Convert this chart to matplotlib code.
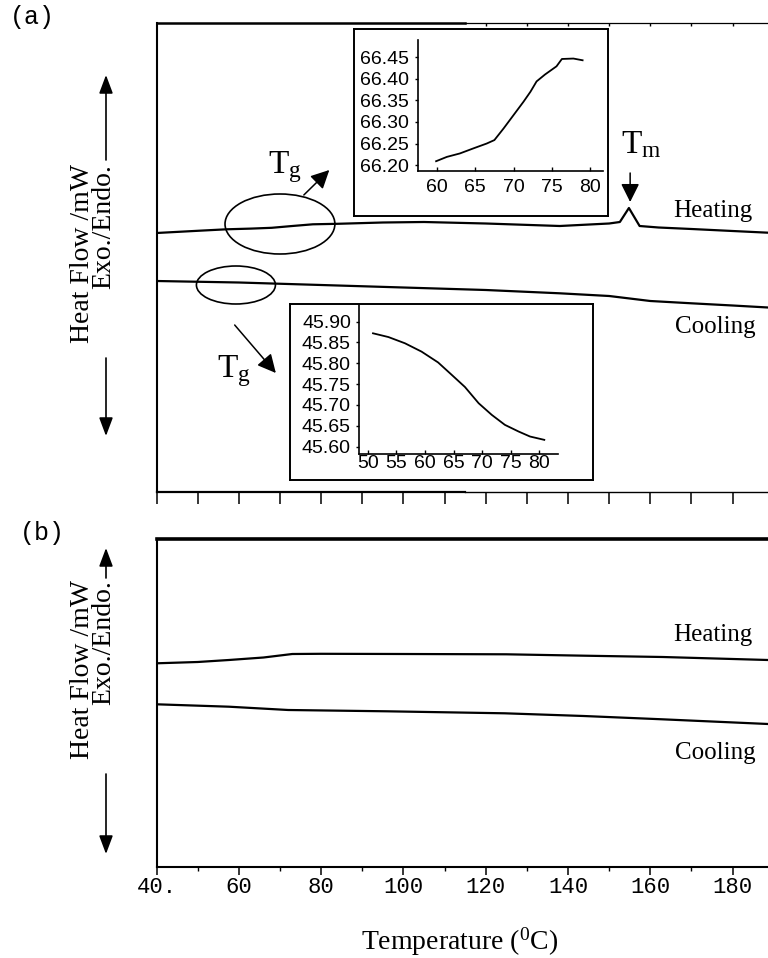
import numpy as np
import matplotlib
matplotlib.use("Agg")
import matplotlib.pyplot as plt
from matplotlib.patches import Ellipse, FancyArrowPatch

plt.rcParams['mathtext.fontset'] = 'custom'
plt.rcParams['mathtext.rm'] = 'Liberation Serif'
plt.rcParams['mathtext.it'] = 'Liberation Serif:italic'

SERIF = 'Liberation Serif'
MONO = 'Liberation Mono'
SANS = 'Liberation Sans'

# ---------------- data ----------------
# panel (a) : heat flow (arbitrary units) vs temperature (°C)
a_heat_T = [40, 50, 57, 63, 68, 73, 78, 84, 95, 105, 120, 138, 150, 152.6, 154.8, 157.4, 162, 170, 180, 188.6]
a_heat_v = [25.90, 26.12, 26.27, 26.34, 26.42, 26.60, 26.77, 26.82, 26.95, 27.00, 26.85, 26.60, 26.85,
            27.00, 28.40, 26.60, 26.45, 26.30, 26.10, 25.93]
a_cool_T = [40, 60, 80, 100, 120, 138, 150, 160, 170, 180, 188.6]
a_cool_v = [21.10, 20.95, 20.70, 20.45, 20.20, 19.87, 19.60, 19.10, 18.87, 18.65, 18.45]

# panel (b)
b_heat_T = [40, 50, 57.6, 66, 73, 80, 100, 125, 144, 163, 188.6]
b_heat_v = [20.37, 20.50, 20.70, 20.95, 21.30, 21.32, 21.30, 21.27, 21.13, 21.00, 20.70]
b_cool_T = [40, 57.6, 72, 96, 124.6, 143.8, 162.9, 188.6]
b_cool_v = [16.27, 16.03, 15.70, 15.57, 15.37, 15.10, 14.77, 14.30]

# inset: heating Tg region
in1_T = [59.9, 61.3, 63.0, 64.8, 66.5, 67.5, 68.7, 70.0, 71.3, 72.2, 73.0, 74.1, 75.6, 76.3, 77.8, 79.0]
in1_v = [66.209, 66.219, 66.227, 66.239, 66.250, 66.258, 66.285, 66.316, 66.347, 66.370, 66.394,
         66.410, 66.429, 66.446, 66.447, 66.443]
in1_xticks = [60, 65, 70, 75, 80]
in1_yticks = [66.20, 66.25, 66.30, 66.35, 66.40, 66.45]

# inset: cooling Tg region
in2_T = [50.9, 53.6, 56.5, 59.4, 62.3, 64.7, 67.0, 69.4, 71.7, 74.0, 76.4, 78.4, 80.9]
in2_v = [45.872, 45.863, 45.848, 45.828, 45.802, 45.772, 45.743, 45.704, 45.676, 45.652, 45.636,
         45.624, 45.616]
in2_xticks = [50, 55, 60, 65, 70, 75, 80]
in2_yticks = [45.60, 45.65, 45.70, 45.75, 45.80, 45.85, 45.90]

x_major = [40, 60, 80, 100, 120, 140, 160, 180]
x_major_labels = ['40.', '60', '80', '100', '120', '140', '160', '180']

# ---------------- layout ----------------
W, H = 768, 958
fig = plt.figure(figsize=(W / 100, H / 100), dpi=100)


def rect(l, t, r, b):
    return [l / W, 1 - b / H, (r - l) / W, (b - t) / H]


def fx(x):
    return x / W


def fy(y):
    return 1 - y / H


ax1 = fig.add_axes(rect(156.5, 23, 768, 492))
ax2 = fig.add_axes(rect(156.5, 539, 768, 867))

for ax in (ax1, ax2):
    ax.set_xlim(40, 188.6)
    ax.spines['right'].set_visible(False)
    ax.set_yticks([])
    ax.spines['left'].set_linewidth(1.5)

ax1.set_ylim(0, 46.9)
ax2.set_ylim(0, 32.8)

# panel (a) curves
ax1.plot(a_heat_T, a_heat_v, color='black', lw=1.6)
ax1.plot(a_cool_T, a_cool_v, color='black', lw=1.6)
# panel (b) curves
ax2.plot(b_heat_T, b_heat_v, color='black', lw=1.6)
ax2.plot(b_cool_T, b_cool_v, color='black', lw=1.6)

# panel (a) spines / ticks
ax1.spines['top'].set_visible(False)
ax1.spines['bottom'].set_visible(False)
split = (465 - 156.5) / (768 - 156.5)
ax1.plot([0, split], [1, 1], transform=ax1.transAxes, color='black', lw=1.8, clip_on=False)
ax1.plot([split, 1], [1, 1], transform=ax1.transAxes, color='black', lw=0.9, clip_on=False)
ax1.plot([0, split], [0, 0], transform=ax1.transAxes, color='black', lw=1.6, clip_on=False)
ax1.plot([split, 1], [0, 0], transform=ax1.transAxes, color='black', lw=1.0, clip_on=False)
ax1.set_xticks(np.arange(40, 190, 10))
ax1.tick_params(axis='x', direction='out', length=8.4, width=1.1, labelbottom=False)
sec = ax1.secondary_xaxis('top')
sec.set_xticks(np.arange(120, 190, 10))
sec.tick_params(axis='x', direction='in', length=2.5, width=1.0, labeltop=False)
sec.spines['top'].set_visible(False)

# panel (b) spines / ticks
ax2.spines['top'].set_linewidth(2.6)
ax2.spines['bottom'].set_linewidth(1.5)
ax2.set_xticks(x_major)
ax2.set_xticklabels(x_major_labels, family=MONO, fontsize=16)
ax2.set_xticks(np.arange(50, 190, 20), minor=True)
ax2.tick_params(axis='x', which='major', direction='out', length=5.5, width=1.1, pad=2)
ax2.tick_params(axis='x', which='minor', direction='out', length=3, width=1.0)

# curve labels
ax1.text(165.5, (492 - 217) / 10, 'Heating', family=SERIF, fontsize=18, ha='left', va='baseline')
ax1.text(165.9, (492 - 333) / 10, 'Cooling', family=SERIF, fontsize=18, ha='left', va='baseline')
ax2.text(165.5, (867 - 641) / 10, 'Heating', family=SERIF, fontsize=18, ha='left', va='baseline')
ax2.text(165.9, (867 - 759) / 10, 'Cooling', family=SERIF, fontsize=18, ha='left', va='baseline')

# Tg / Tm annotations in panel (a)
ax1.add_patch(Ellipse((70.0, 26.8), 26.7, 6.0, fill=False, lw=1.2, color='black'))
ax1.add_patch(Ellipse((59.3, 20.7), 19.2, 3.8, fill=False, lw=1.2, color='black'))


def arrow(ax, p0, p1):
    a = FancyArrowPatch(p0, p1, arrowstyle='-|>,head_length=0.7,head_width=0.35', mutation_scale=16,
                        lw=1.1, color='black', shrinkA=0, shrinkB=0)
    ax.add_patch(a)


arrow(ax1, (75.8, 29.7), (82.0, 32.2))
arrow(ax1, (59.0, 16.7), (69.0, 11.9))
arrow(ax1, (155.1, 31.9), (155.1, 29.0))
ax1.text(67.1, 31.9, r'T$_{\mathrm{g}}$', family=SERIF, fontsize=24, ha='left', va='baseline')
ax1.text(54.7, 11.5, r'T$_{\mathrm{g}}$', family=SERIF, fontsize=24, ha='left', va='baseline')
ax1.text(152.9, 33.9, r'T$_{\mathrm{m}}$', family=SERIF, fontsize=24, ha='left', va='baseline')


# ---------------- insets ----------------
def inset(box, inner, T, v, xlim, ylim, xt, yt, xpad):
    b = fig.add_axes(rect(*box))
    b.set_xticks([])
    b.set_yticks([])
    for s in b.spines.values():
        s.set_linewidth(1.4)
    b.set_zorder(5)
    i = fig.add_axes(rect(*inner))
    i.set_zorder(6)
    i.patch.set_alpha(0)
    i.plot(T, v, color='black', lw=1.3)
    i.set_xlim(*xlim)
    i.set_ylim(*ylim)
    i.spines['top'].set_visible(False)
    i.spines['right'].set_visible(False)
    i.spines['left'].set_linewidth(1.2)
    i.spines['bottom'].set_linewidth(1.2)
    i.set_xticks(xt)
    i.set_xticklabels([str(t) for t in xt], family=SANS, fontsize=14)
    i.set_yticks(yt)
    i.set_yticklabels(['%.2f' % t for t in yt], family=SANS, fontsize=14)
    i.tick_params(axis='x', direction='in', length=3, width=1, pad=xpad)
    i.tick_params(axis='y', direction='out', length=2, width=1, pad=4)
    return i


inset((353.5, 29, 608.4, 216), (417.7, 40, 603.3, 170.7), in1_T, in1_v,
      (57.5, 81.7), (66.187, 66.49), in1_xticks, in1_yticks, 6)
inset((290, 304, 592.6, 480), (359.3, 305, 558, 454), in2_T, in2_v,
      (48.5, 83.3), (45.582, 45.94), in2_xticks, in2_yticks, 1)


# ---------------- side labels ----------------
def side_label(top, tip_up, line_up_end, line_dn_start, tip_dn):
    fig.text(fx(93), fy(top), 'Heat Flow /mW\nExo./Endo.', rotation=90, ha='center', va='top',
             multialignment='right', linespacing=0.8, family=SERIF, fontsize=20)
    for p0, p1 in (((fx(106), fy(line_up_end)), (fx(106), fy(tip_up))),
                   ((fx(106), fy(line_dn_start)), (fx(106), fy(tip_dn)))):
        a = FancyArrowPatch(p0, p1, transform=fig.transFigure,
                            arrowstyle='-|>,head_length=0.8,head_width=0.3', mutation_scale=14,
                            lw=1.2, color='black', shrinkA=0, shrinkB=0)
        fig.add_artist(a)


side_label(164, 75, 160, 358, 436)
side_label(580, 548, 578, 774, 854)

fig.text(fx(10), fy(5), '(a)', family=MONO, fontsize=18, ha='left', va='top')
fig.text(fx(20), fy(521), '(b)', family=MONO, fontsize=18, ha='left', va='top')
fig.text(fx(460), fy(950), r'Temperature (${}^{0}$C)', family=SERIF, fontsize=20,
         ha='center', va='baseline')

fig.savefig('out.png', dpi=100)
